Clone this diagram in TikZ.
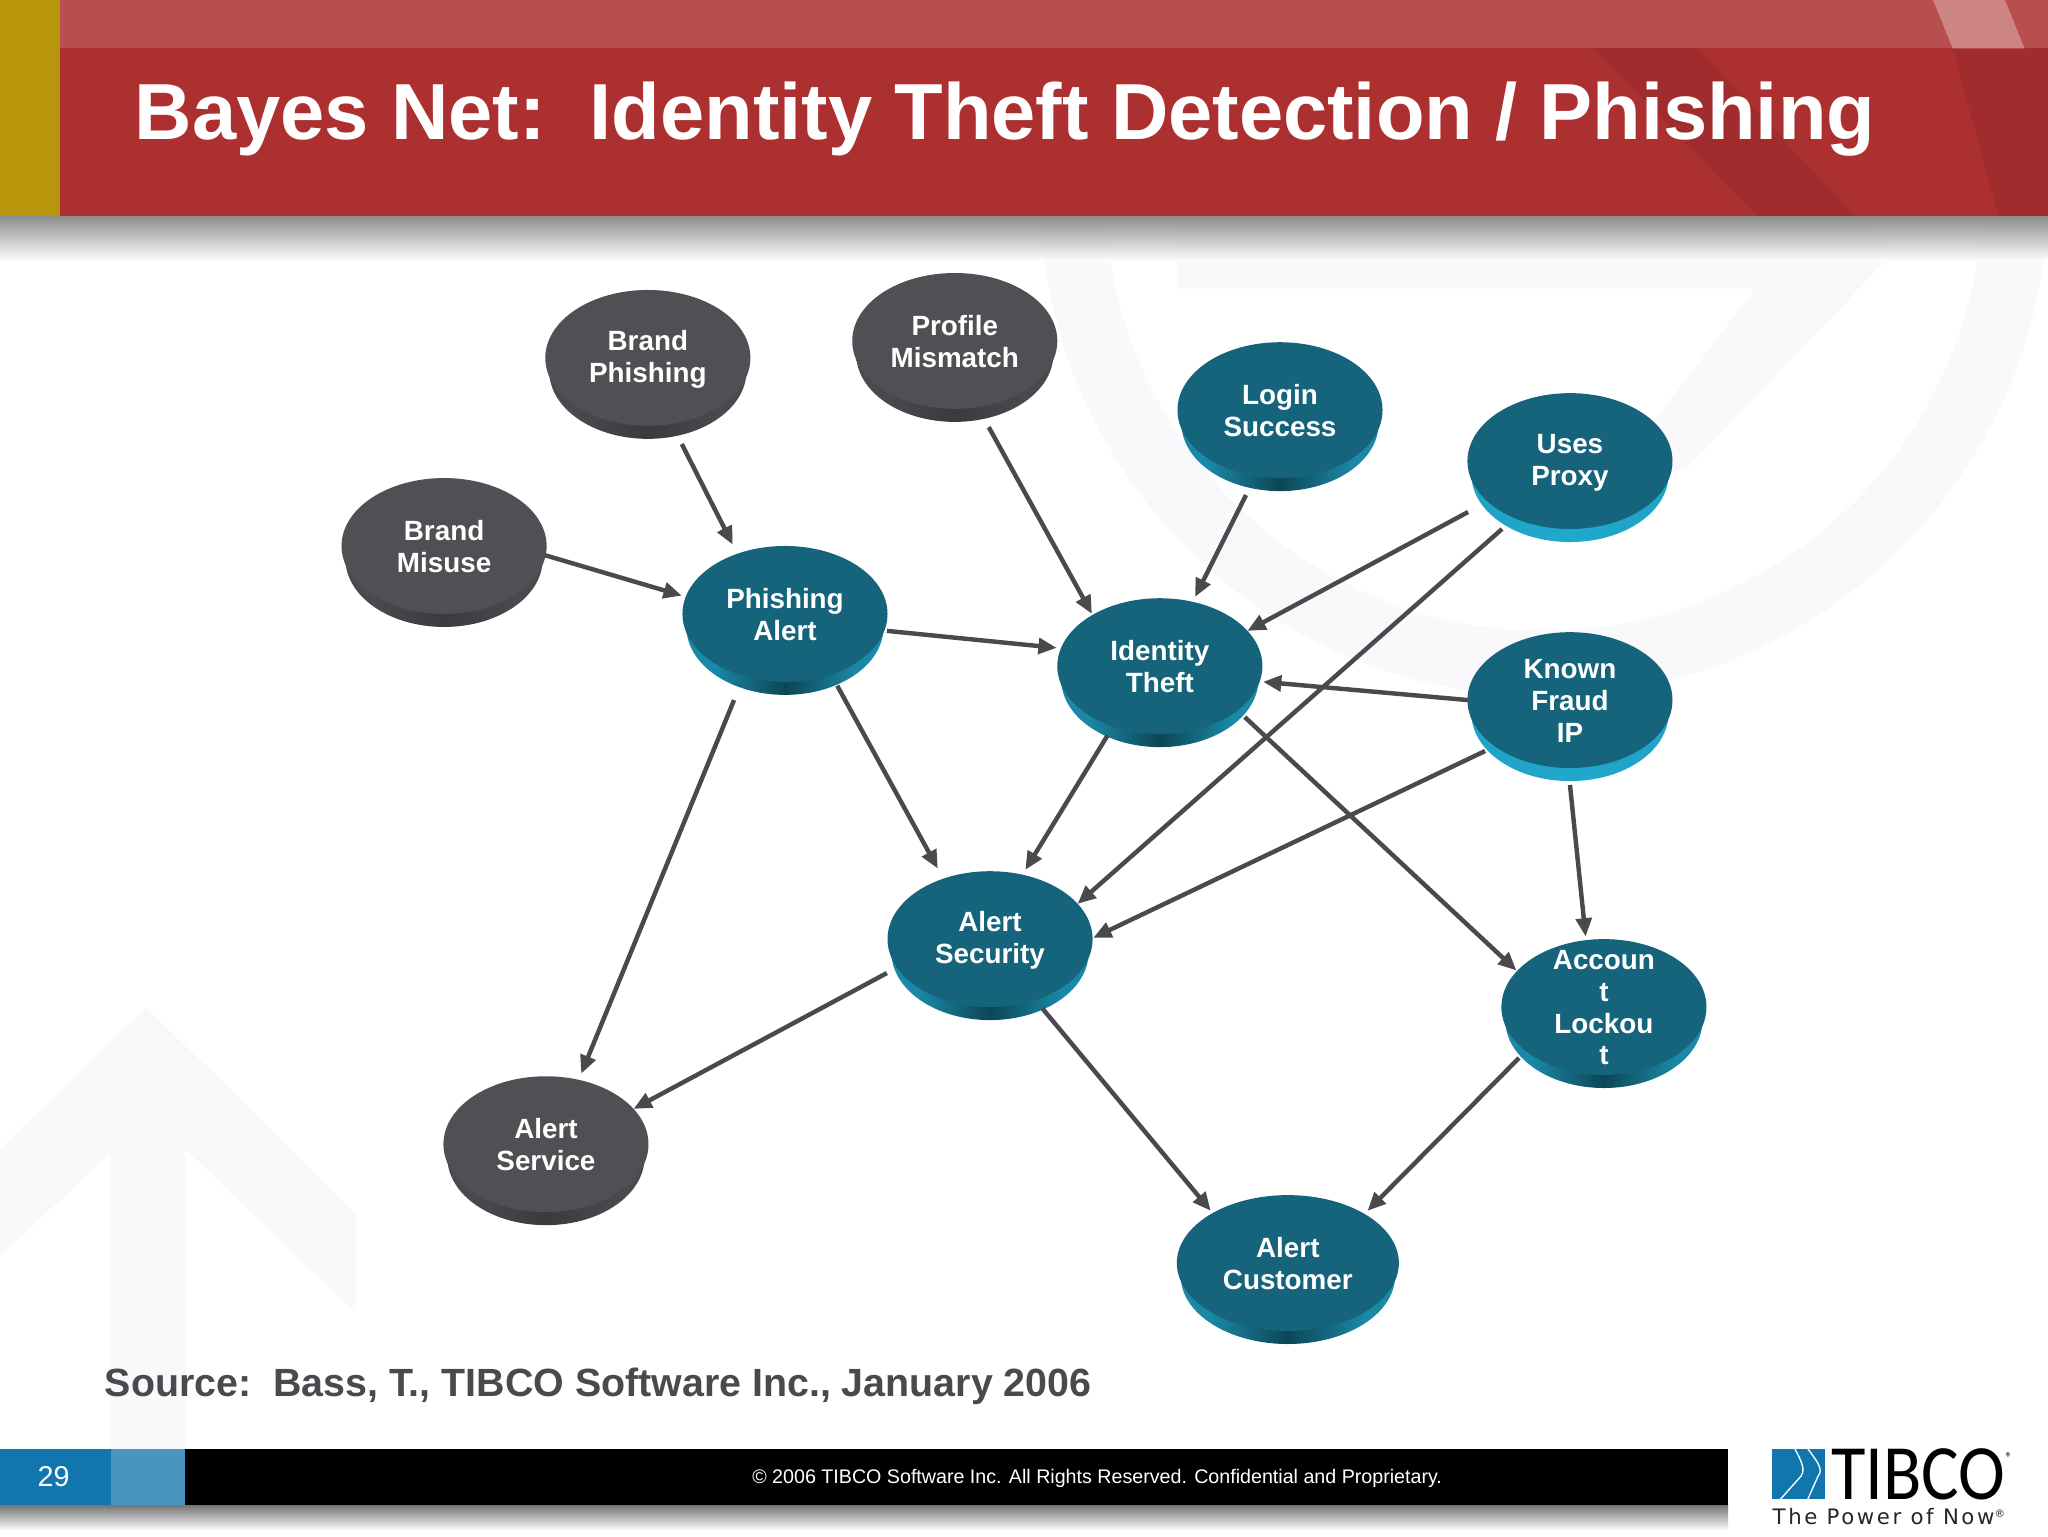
\documentclass[tikz,border=0pt]{standalone}
\usepackage{fontspec}
\setmainfont{Liberation Sans}
\newfontfamily\logofont{Carlito}
\newfontfamily\tagfont[LetterSpace=12]{DejaVu Sans}
\usetikzlibrary{calc,shapes.geometric,arrows.meta}
\definecolor{facet}{HTML}{15647C}
\definecolor{faced}{HTML}{504F53}
\definecolor{linec}{HTML}{4A4A4E}
\definecolor{wm}{HTML}{F9F8FB}
\definecolor{hdr}{HTML}{AD3031}
\definecolor{hdrtop}{HTML}{B84F4F}
\definecolor{hdrdark}{HTML}{A02C2D}
\definecolor{hdrlight}{HTML}{CD8484}
\definecolor{gold}{HTML}{B8960C}
\definecolor{footb}{HTML}{1176AE}
\definecolor{footl}{HTML}{4A95BF}
\definecolor{T1}{HTML}{1A88A6}
\definecolor{T2}{HTML}{0D4656}
\definecolor{C1}{HTML}{1F9CC0}
\definecolor{C2}{HTML}{20A8CC}
\definecolor{D1}{HTML}{4A494E}
\definecolor{D2}{HTML}{3B3A3E}
\pgfdeclarehorizontalshading{tealbase}{100bp}{color(0bp)=(T1);color(32bp)=(T1);color(50bp)=(T2);color(68bp)=(T1);color(100bp)=(T1)}
\pgfdeclarehorizontalshading{cyanbase}{100bp}{color(0bp)=(C1);color(50bp)=(C2);color(100bp)=(C1)}
\pgfdeclarehorizontalshading{darkbase}{100bp}{color(0bp)=(D1);color(32bp)=(D1);color(50bp)=(D2);color(68bp)=(D1);color(100bp)=(D1)}
\tikzset{
  discnode/.style={shape=ellipse,text=white,align=center,inner xsep=0pt,inner ysep=-25pt,
    minimum height=104pt,font=\fontsize{21.3}{24.3}\selectfont\bfseries},
  discteal/.style={discnode,fill=facet},
  disccyan/.style={discnode,fill=facet},
  discdark/.style={discnode,fill=faced},
  arrowline/.style={draw=linec,line width=3.4pt,-{Triangle[length=14pt,width=12pt]}},
  wmfill/.style={fill=wm,draw=none},
}
\newcommand{\edge}{\rule[-1.8pt]{0pt}{19.4pt}}
\newcommand{\disc}[6]{%
  \shade[shading=#5base] ({#2},{#3+10}) ellipse [x radius={#4-3},y radius=52];
  \node[disc#5,minimum width={2*#4*1pt}] (#1) at (#2,#3) {\edge#6\edge};}
\newcommand{\conn}[4]{\draw[arrowline] ($(#1)+(#2)$) -- ($(#3)+(#4)$);}
\begin{document}
\begin{tikzpicture}[x=1pt,y=-1pt]
\useasboundingbox (0,0) rectangle (1568,1176);
\fill[white] (0,0) rectangle (1568,1176);
% watermark
\fill[wmfill,even odd rule] (1182,147) circle [radius=386] (1182,147) circle [radius=336];
\fill[wmfill] (901,165)--(901,221)--(1344,221)--(1230,370)--(1290,360)--(1452,191)--(1420,165)--cycle;
\fill[wmfill] (0,880)--(112,771)--(272,929)--(272,1005)--(142,880)--(142,1109)--(84,1109)--(84,883)--(0,962)--cycle;
% header
\shade[top color=black!50,bottom color=white,opacity=.9] (0,165) rectangle (1568,200);
\fill[hdrtop] (46,0) rectangle (1568,37);
\fill[hdr] (46,37) rectangle (1568,165);
\fill[hdrdark] (1220,37)--(1300,37)--(1420,165)--(1345,165)--cycle;
\fill[hdrdark] (1495,37)--(1568,37)--(1568,165)--(1530,165)--cycle;
\fill[hdrlight] (1480,0)--(1535,0)--(1550,37)--(1495,37)--cycle;
\fill[gold] (0,0) rectangle (46,165);
\node[anchor=base west,inner sep=0pt,text=white,font=\fontsize{60.87}{70}\selectfont\bfseries] (title) at (103,107) {Bayes Net:\ \ Identity Theft Detection / Phishing};
% discs
\disc{bp}{496}{274}{78.5}{dark}{Brand\\Phishing}
\disc{pm}{731}{261}{78.5}{dark}{Profile\\Mismatch}
\disc{bm}{340}{418}{78.5}{dark}{Brand\\Misuse}
\disc{ls}{980}{314}{78.5}{teal}{Login\\Success}
\disc{up}{1202}{353}{78.5}{cyan}{Uses\\Proxy}
\disc{pa}{601}{470}{78.5}{teal}{Phishing\\Alert}
\disc{it}{888}{510}{78.5}{teal}{Identity\\Theft}
\disc{kf}{1202}{536}{78.5}{cyan}{Known\\Fraud\\IP}
\disc{as}{758}{719}{78.5}{teal}{Alert\\Security}
\disc{al}{1228}{771}{78.5}{teal}{Accoun\\t\\Lockou\\t}
\disc{sv}{418}{876}{78.5}{dark}{Alert\\Service}
\disc{ac}{986}{967}{85}{teal}{Alert\\Customer}
% connectors
\conn{bp}{26,66}{pa}{-40,-53}
\conn{bm}{77,7}{pa}{-79,-14}
\conn{pm}{26,66}{it}{-52,-40}
\conn{ls}{-26,65}{it}{27,-53}
\conn{up}{-78,39}{it}{67,-27}
\conn{up}{-52,52}{as}{67,-27}
\conn{kf}{-78,0}{it}{79,12}
\conn{kf}{-65,39}{as}{79,-1}
\conn{kf}{0,65}{al}{-14,-54}
\conn{pa}{78,13}{it}{-79,-14}
\conn{pa}{40,55}{as}{-40,-54}
\conn{pa}{-39,66}{sv}{27,-54}
\conn{it}{-40,53}{as}{27,-53}
\conn{it}{65,39}{al}{-67,-28}
\conn{as}{-79,26}{sv}{67,-27}
\conn{as}{40,53}{ac}{-59,-40}
\conn{al}{-65,39}{ac}{61,-40}
% source
\node[anchor=base west,inner sep=0pt,text=linec,font=\fontsize{30.14}{36}\selectfont\bfseries] (src) at (80,1069) {Source:\ \ Bass, T., TIBCO Software Inc., January 2006};
% footer
\shade[top color=black!55,bottom color=white] (0,1152) rectangle (1323,1172);
\fill[black] (142,1109) rectangle (1323,1152);
\fill[footb] (0,1109) rectangle (85,1152);
\fill[footl] (85,1109) rectangle (142,1152);
\node[anchor=base,inner sep=0pt,text=white,font=\fontsize{22}{26}\selectfont] (pg) at (41,1138) {29};
\node[anchor=base,inner sep=0pt,text=white,font=\fontsize{15.05}{20}\selectfont] (cr) at (840,1136) {© 2006 TIBCO Software Inc. All Rights Reserved. Confidential and Proprietary.};
% logo
\fill[footb] (1357,1109) rectangle (1397,1148);
\draw[white,line width=1pt] (1374,1109) .. controls (1380,1120) and (1382,1125) .. (1379,1130) -- (1363,1148);
\draw[white,line width=1pt] (1384,1109) .. controls (1392,1120) and (1396,1125) .. (1392,1130) -- (1384,1148);
\node[anchor=base west,inner sep=0pt,text=black,xscale=.9,font=\logofont\fontsize{60}{60}\selectfont] (tib) at (1402,1148) {TIBCO\raisebox{28pt}{\fontsize{11}{11}\selectfont ®}};
\node[anchor=base west,inner sep=0pt,text=black!85,font=\tagfont\fontsize{16.3}{18}\selectfont] (tag) at (1357,1167) {The Power of Now\raisebox{5pt}{\fontsize{8}{8}\selectfont ®}};
\end{tikzpicture}
\end{document}
